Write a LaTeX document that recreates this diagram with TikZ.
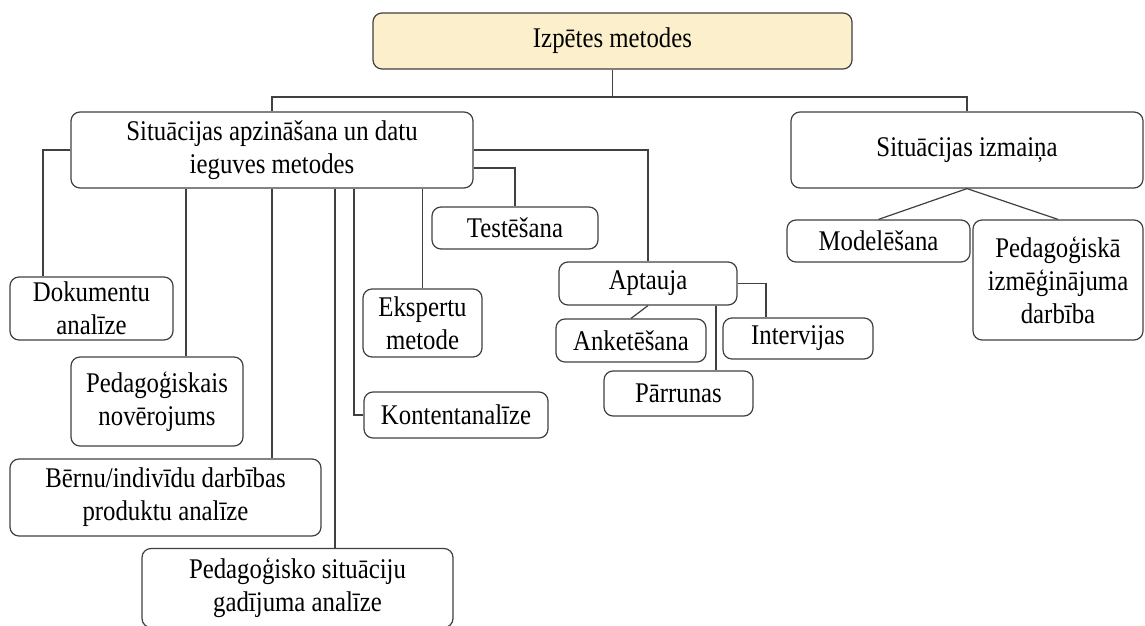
\documentclass[tikz,border=0pt]{standalone}
\usepackage{fontspec}
\setmainfont{Liberation Serif}[FakeStretch=0.87]
\usepackage{tikz}
\usetikzlibrary{positioning}
\definecolor{linegray}{HTML}{404040}
\definecolor{topfill}{HTML}{FCEFCB}
\tikzset{
  method/.style={draw=linegray, line width=1.2pt, rounded corners=9pt, align=center,
    inner sep=2pt, text=black, font=\fontsize{28.5}{33}\selectfont},
  link/.style={draw=linegray, line width=1.2pt}
}

\begin{document}
\begin{tikzpicture}[x=1pt, y=-1pt]
            \useasboundingbox (0,0) rectangle (1145,626);
            \node [method, fill=topfill, minimum width=479pt, minimum height=56pt] (top) at (612.5,41) {Izpētes metodes};
            \node [method, minimum width=402pt, minimum height=76pt] (sit) at (272,150) {Situācijas apzināšana un datu\\ieguves metodes};
            \node [method, minimum width=352pt, minimum height=76pt] (izm) at (967,150) {Situācijas izmaiņa};

            \node [method, minimum width=163pt, minimum height=63pt] (dok) at (91.5,308.5) {Dokumentu\\analīze};
            \node [method, minimum width=172pt, minimum height=89pt] (nov) at (157,401.5) {Pedagoģiskais\\novērojums};
            \node [method, minimum width=311pt, minimum height=77pt] (ber) at (165.5,497.5) {Bērnu/indivīdu darbības\\produktu analīze};
            \node [method, minimum width=311pt, minimum height=79pt] (gad) at (297.5,588) {Pedagoģisko situāciju\\gadījuma analīze};
            \node [method, minimum width=119pt, minimum height=68pt] (eks) at (422.5,323) {Ekspertu\\metode};
            \node [method, minimum width=184pt, minimum height=46pt] (kon) at (456,415) {Kontentanalīze};
            \node [method, minimum width=166pt, minimum height=42pt] (tes) at (515,228) {Testēšana};
            \node [method, minimum width=178pt, minimum height=43pt] (apt) at (648,283.5) {Aptauja};
            \node [method, minimum width=150pt, minimum height=43pt] (ank) at (631,340.5) {Anketēšana};
            \node [method, minimum width=150pt, minimum height=41pt] (int) at (798,338.5) {Intervijas};
            \node [method, minimum width=149pt, minimum height=45pt] (par) at (678.5,393.5) {Pārrunas};
            \node [method, minimum width=183pt, minimum height=42pt] (mod) at (878.5,241) {Modelēšana};
            \node [method, minimum width=170pt, minimum height=120pt] (pid) at (1058,280) {Pedagoģiskā\\izmēģinājuma\\darbība};

            \coordinate (bus) at (612.5,97);
            \draw[link] (top.south) -- (bus);
            \draw[link] (sit.north) |- (bus) -| (izm.north);

            \draw[link] (sit.west) -| (dok.north -| 43,0);
            \draw[link] (sit.south -| 186,0) -- (nov.north -| 186,0);
            \draw[link] (sit.south) -- (ber.north -| sit.south);
            \draw[link] (sit.south -| 335,0) -- (gad.north -| 335,0);
            \draw[link] (sit.south -| 354,0) |- (kon.west);
            \draw[link] (sit.south -| eks.north) -- (eks.north);
            \draw[link] ([yshift=-18pt]sit.east) -| (tes.north);
            \draw[link] (sit.east) -| (apt.north);

            \draw[link] (apt.south) -- (ank.north);
            \draw[link] (apt.south -| 716,0) -- (par.north -| 716,0);
            \draw[link] (apt.east) -| (int.north -| 766,0);

            \draw[link] (izm.south) -- (mod.north);
            \draw[link] (izm.south) -- (pid.north);
        \end{tikzpicture}
\end{document}
